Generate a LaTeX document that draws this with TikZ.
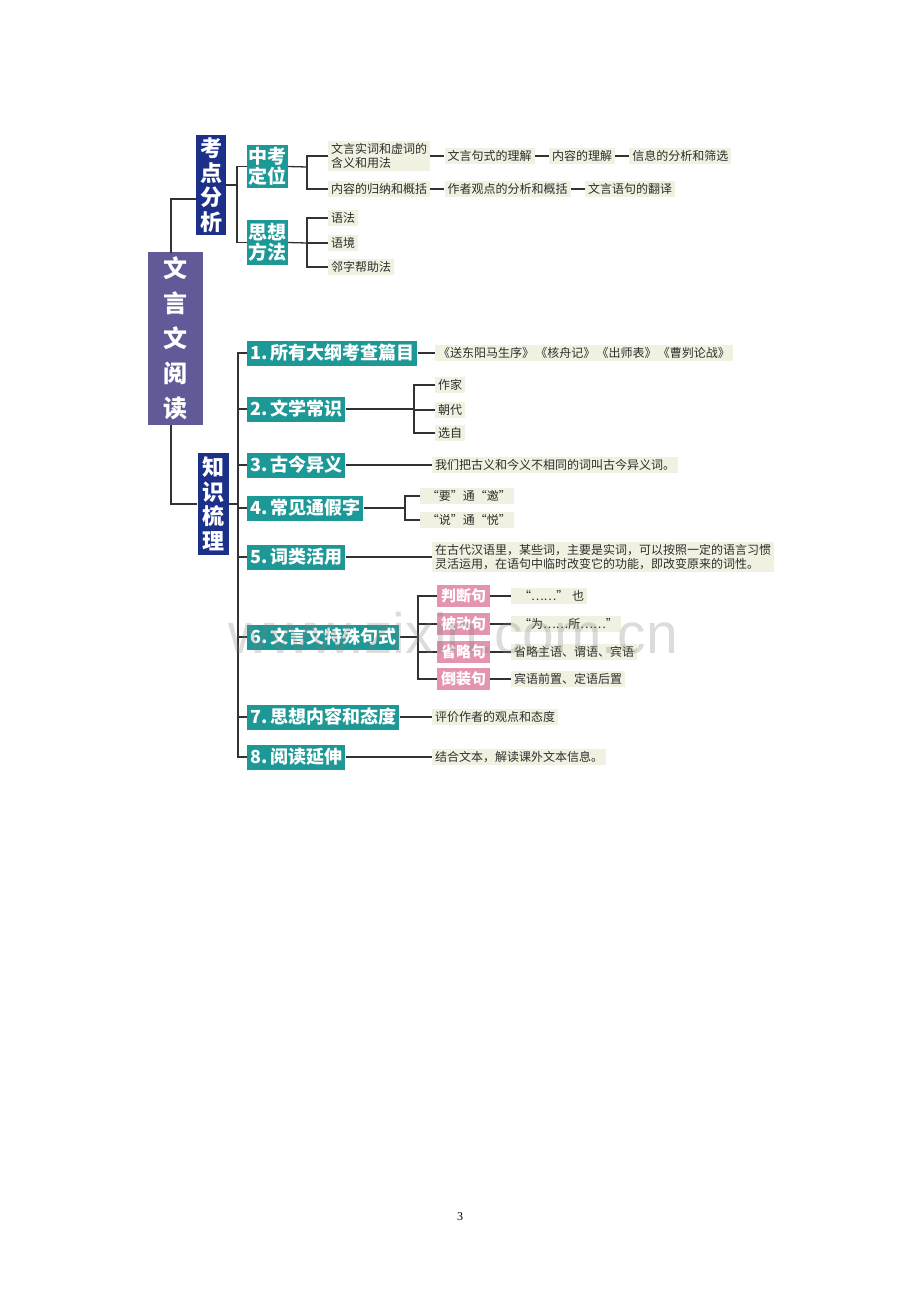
\documentclass[tikz,border=0pt]{standalone}
\usepackage{fontspec}
\newfontfamily\cjk{Noto Sans CJK SC}
\newfontfamily\wmfont{Liberation Sans}
\newfontfamily\pgfont{Liberation Serif}
\usetikzlibrary{positioning}
\definecolor{tealbox}{RGB}{28,152,150}
\definecolor{navybox}{RGB}{28,48,138}
\definecolor{rootbox}{RGB}{96,90,152}
\definecolor{pinkbox}{RGB}{228,148,176}
\definecolor{leafbg}{RGB}{241,241,226}
\definecolor{linecol}{RGB}{50,50,50}
\definecolor{leaftext}{RGB}{45,45,45}
\tikzset{
  conn/.style={draw=linecol, line width=1.3pt},
  vbox/.style={text=white, align=center, inner sep=0pt},
  itembox/.style={fill=tealbox, text=white, anchor=west, inner xsep=3pt, inner ysep=2pt,
     minimum height=25pt, font=\cjk\bfseries\fontsize{18}{20}\selectfont},
  leaf/.style={fill=leafbg, text=leaftext, anchor=west, inner xsep=3pt, inner ysep=2.5pt,
     align=left, font=\cjk\fontsize{12}{14.5}\selectfont},
  pinkb/.style={fill=pinkbox, text=white, anchor=west, inner xsep=3pt, inner ysep=2pt,
     minimum width=53pt, minimum height=22pt, font=\cjk\bfseries\fontsize{15}{18}\selectfont},
}
\begin{document}
\begin{tikzpicture}[x=1pt,y=-1pt]
\useasboundingbox (0,0) rectangle (920,1302);

% root and level-1
\node[vbox, fill=rootbox, minimum width=55pt, minimum height=173pt,
  font=\cjk\bfseries\fontsize{24}{35}\selectfont] (root) at (175.5,338.5) {文\\言\\文\\阅\\读};
\node[vbox, fill=navybox, minimum width=30pt, minimum height=100pt,
  font=\cjk\bfseries\fontsize{22}{24.5}\selectfont] (kd) at (211,185) {考\\点\\分\\析};
\node[vbox, fill=navybox, minimum width=31pt, minimum height=102pt,
  font=\cjk\bfseries\fontsize{22}{24.5}\selectfont] (zs) at (213,504) {知\\识\\梳\\理};
\coordinate (ra) at (171,253);
\coordinate (rb) at (171,425);
\draw[conn] (ra) |- ([yshift=-14pt]kd.west);
\draw[conn] (rb) |- (zs.west);

% 考点分析 branch
\node[vbox, fill=tealbox, minimum width=41pt, minimum height=43pt,
  font=\cjk\bfseries\fontsize{19}{20}\selectfont] (zk) at (267.5,166.5) {中考\\定位};
\node[vbox, fill=tealbox, minimum width=41pt, minimum height=45pt,
  font=\cjk\bfseries\fontsize{19}{20}\selectfont] (sx) at (267.5,242.5) {思想\\方法};
\coordinate (b1) at (237,185);
\draw[conn] (kd.east) -- (b1);
\draw[conn] (zk.west) -| (b1);
\draw[conn] (sx.west) -| (b1);

\coordinate (b2) at (307,167);
\draw[conn] (zk.east) -- (b2);
\node[leaf] (l1) at (328,156) {文言实词和虚词的\\含义和用法};
\node[leaf, right=14pt of l1] (l1a) {文言句式的理解};
\node[leaf, right=14pt of l1a] (l1b) {内容的理解};
\node[leaf, right=14pt of l1b] (l1c) {信息的分析和筛选};
\node[leaf] (l2) at (328,189) {内容的归纳和概括};
\node[leaf, right=14pt of l2] (l2a) {作者观点的分析和概括};
\node[leaf, right=14pt of l2a] (l2b) {文言语句的翻译};
\draw[conn] (l1.west) -| (b2);
\draw[conn] (l2.west) -| (b2);
\draw[conn] (l1.east) -- (l1a.west);
\draw[conn] (l1a.east) -- (l1b.west);
\draw[conn] (l1b.east) -- (l1c.west);
\draw[conn] (l2.east) -- (l2a.west);
\draw[conn] (l2a.east) -- (l2b.west);

\coordinate (b3) at (307,243);
\draw[conn] (sx.east) -- (b3);
\node[leaf] (m1) at (328,218) {语法};
\node[leaf] (m2) at (328,243) {语境};
\node[leaf] (m3) at (328,267) {邻字帮助法};
\foreach \n in {m1,m2,m3} \draw[conn] (\n.west) -| (b3);

% 知识梳理 branch
\coordinate (t) at (238,504);
\draw[conn] (zs.east) -- (t);
\node[itembox] (i1) at (247,353) {1.\,所有大纲考查篇目};
\node[itembox] (i2) at (247,409) {2.\,文学常识};
\node[itembox] (i3) at (247,465) {3.\,古今异义};
\node[itembox] (i4) at (247,508) {4.\,常见通假字};
\node[itembox] (i5) at (247,557) {5.\,词类活用};
\node[itembox] (i6) at (247,637) {6.\,文言文特殊句式};
\node[itembox] (i7) at (247,717) {7.\,思想内容和态度};
\node[itembox] (i8) at (247,757) {8.\,阅读延伸};
\foreach \n in {i1,i2,i3,i4,i5,i6,i7,i8} \draw[conn] (\n.west) -| (t);

\node[leaf] (k1) at (435,353) {《送东阳马生序》\hspace{0.1em}《核舟记》\hspace{0.1em}《出师表》\hspace{0.1em}《曹刿论战》};
\draw[conn] (i1.east) -- (k1.west);

\coordinate (c2) at (414,409);
\draw[conn] (i2.east) -- (c2);
\node[leaf] (k2a) at (435,385) {作家};
\node[leaf] (k2b) at (435,410) {朝代};
\node[leaf] (k2c) at (435,433) {选自};
\foreach \n in {k2a,k2b,k2c} \draw[conn] (\n.west) -| (c2);

\node[leaf] (k3) at (432,465) {我们把古义和今义不相同的词叫古今异义词。};
\draw[conn] (i3.east) -- (k3.west);

\coordinate (c4) at (405,508);
\draw[conn] (i4.east) -- (c4);
\node[leaf] (k4a) at (420,496) {\hspace{0.3em}“要”通“邀”};
\node[leaf] (k4b) at (420,520) {\hspace{0.3em}“说”通“悦”};
\foreach \n in {k4a,k4b} \draw[conn] (\n.west) -| (c4);

\node[leaf] (k5) at (432,557) {在古代汉语里，某些词，主要是实词，可以按照一定的语言习惯\\灵活运用，在语句中临时改变它的功能，即改变原来的词性。};
\draw[conn] (i5.east) -- (k5.west);

\coordinate (c6) at (418,637);
\draw[conn] (i6.east) -- (c6);
\node[pinkb] (p1) at (437,596) {判断句};
\node[pinkb] (p2) at (437,624) {被动句};
\node[pinkb] (p3) at (437,652) {省略句};
\node[pinkb] (p4) at (437,679) {倒装句};
\foreach \n in {p1,p2,p3,p4} \draw[conn] (\n.west) -| (c6);
\node[leaf] (q1) at (511,596) {\hspace{0.4em}“……”\hspace{0.3em}也};
\node[leaf] (q2) at (511,624) {\hspace{0.4em}“为……所……”};
\node[leaf] (q3) at (511,652) {省略主语、谓语、宾语};
\node[leaf] (q4) at (511,679) {宾语前置、定语后置};
\draw[conn] (p1.east) -- (q1.west);
\draw[conn] (p2.east) -- (q2.west);
\draw[conn] (p3.east) -- (q3.west);
\draw[conn] (p4.east) -- (q4.west);

\node[leaf] (k7) at (432,717) {评价作者的观点和态度};
\draw[conn] (i7.east) -- (k7.west);
\node[leaf] (k8) at (432,757) {结合文本，解读课外文本信息。};
\draw[conn] (i8.east) -- (k8.west);

% watermark
\node[anchor=base west, inner sep=0pt, text=gray, opacity=0.28,
  font=\wmfont\fontsize{57}{60}\selectfont] (wm) at (228,653) {www.zixin.com.cn};

% page number
\node[inner sep=0pt, font=\pgfont\fontsize{12}{14}\selectfont] (pg) at (460,1217) {3};
\end{tikzpicture}
\end{document}
